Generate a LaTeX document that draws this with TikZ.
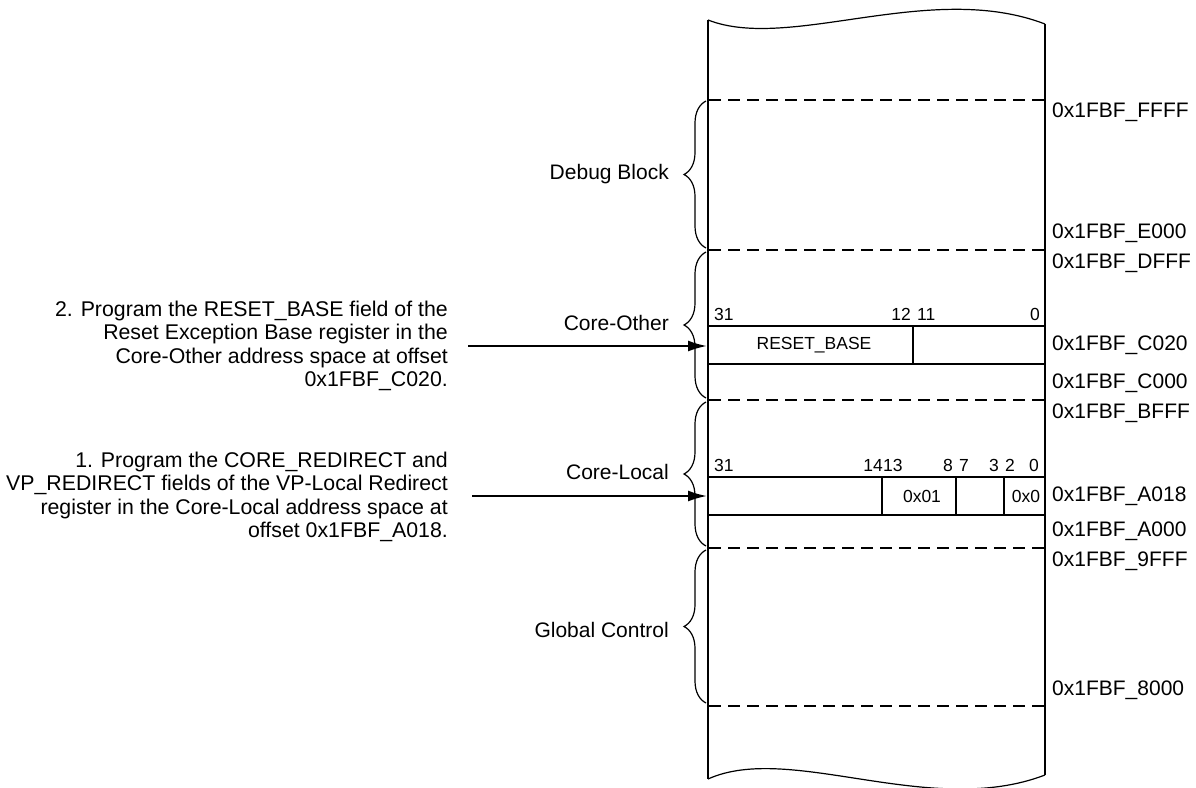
\documentclass[tikz,border=0pt]{standalone}
\usepackage{fontspec}
\setmainfont{Liberation Sans}
\usetikzlibrary{decorations.pathreplacing,arrows.meta}
\begin{document}
\begin{tikzpicture}[x=1pt,y=-1pt,
  colline/.style={line width=2pt},
  sepline/.style={line width=1.8pt, dash pattern=on 12pt off 7pt},
  regline/.style={line width=1.8pt},
  wave/.style={line width=1.2pt},
  blockbrace/.style={decorate, decoration={brace, amplitude=22pt}, line width=1.2pt},
  addr/.style={anchor=west, inner sep=0pt, font=\fontsize{21}{24}\selectfont},
  blocklabel/.style={anchor=east, inner sep=0pt, font=\fontsize{21}{24}\selectfont},
  note/.style={anchor=east, inner sep=0pt, align=right, font=\fontsize{21.3}{23.5}\selectfont},
  bitlbl/.style={inner sep=0pt, font=\fontsize{17.5}{20}\selectfont},
  fieldtxt/.style={inner sep=0pt, font=\fontsize{17.5}{20}\selectfont},
  pointer/.style={line width=2pt, -{Latex[length=19pt,width=11pt]}}
]
\useasboundingbox (0,0) rectangle (1196,787);

% column
\draw[colline] (708,20) -- (708,779);
\draw[colline] (1045,24) -- (1045,775);
\draw[wave] (708,20) .. controls (790,52) and (930,-20) .. (1045,24);
\draw[wave] (708,779) .. controls (790,742) and (930,819) .. (1045,775);

% separators
\foreach \yy in {100,250,400,548,706}
  \draw[sepline] (709,\yy) -- (1045,\yy);

% register Core-Other
\draw[regline] (708,326) -- (1045,326);
\draw[regline] (708,364) -- (1045,364);
\draw[regline] (913,326) -- (913,365);
\node[bitlbl, anchor=west] (b31a) at (714,314) {31};
\node[bitlbl, anchor=east] (b12) at (911,314) {12};
\node[bitlbl, anchor=west] (b11) at (917,314) {11};
\node[bitlbl, anchor=east] (b0a) at (1040,314) {0};
\node[fieldtxt] (rb) at (814,345) {RESET\_BASE};

% register Core-Local
\draw[regline] (708,477) -- (1045,477);
\draw[regline] (708,515) -- (1045,515);
\draw[regline] (882,477) -- (882,516);
\draw[regline] (956,477) -- (956,516);
\draw[regline] (1004,477) -- (1004,516);
\node[bitlbl, anchor=west] (b31b) at (714,465) {31};
\node[bitlbl, anchor=east] (b14) at (883,465) {14};
\node[bitlbl, anchor=west] (b13) at (883,465) {13};
\node[bitlbl, anchor=east] (b8) at (953,465) {8};
\node[bitlbl, anchor=west] (b7) at (959,465) {7};
\node[bitlbl, anchor=east] (b3) at (999,465) {3};
\node[bitlbl, anchor=west] (b2) at (1005,465) {2};
\node[bitlbl, anchor=east] (b0b) at (1039,465) {0};
\node[fieldtxt] (v01) at (922,496) {0x01};
\node[fieldtxt] (v0) at (1026,496) {0x0};

% addresses
\node[addr] (aFFFF) at (1052,112) {0x1FBF\_FFFF};
\node[addr] (aE000) at (1052,233) {0x1FBF\_E000};
\node[addr] (aDFFF) at (1052,263) {0x1FBF\_DFFF};
\node[addr] (aC020) at (1052,345) {0x1FBF\_C020};
\node[addr] (aC000) at (1052,383) {0x1FBF\_C000};
\node[addr] (aBFFF) at (1052,413) {0x1FBF\_BFFF};
\node[addr] (aA018) at (1052,496) {0x1FBF\_A018};
\node[addr] (aA000) at (1052,531) {0x1FBF\_A000};
\node[addr] (a9FFF) at (1052,561) {0x1FBF\_9FFF};
\node[addr] (a8000) at (1052,690) {0x1FBF\_8000};

% braces
\draw[blockbrace] (706,248) -- (706,101);
\draw[blockbrace] (706,398) -- (706,252);
\draw[blockbrace] (706,546) -- (706,402);
\draw[blockbrace] (706,703) -- (706,550);
\node[blocklabel] (lDebug) at (669,174) {Debug Block};
\node[blocklabel] (lOther) at (669,323) {Core-Other};
\node[blocklabel] (lLocal) at (669,472) {Core-Local};
\node[blocklabel] (lGlobal) at (669,630) {Global Control};

% notes and pointers
\node[note] (n2) at (448,346) {2. Program the RESET\_BASE field of the\\Reset Exception Base register in the\\Core-Other address space at offset\\0x1FBF\_C020.};
\node[note] (n1) at (448,497) {1. Program the CORE\_REDIRECT and\\VP\_REDIRECT fields of the VP-Local Redirect\\register in the Core-Local address space at\\offset 0x1FBF\_A018.};
\coordinate (p2s) at (468,346);
\coordinate (p2e) at (707,346);
\coordinate (p1s) at (472,496);
\coordinate (p1e) at (707,496);
\draw[pointer] (p2s) -- (p2e);
\draw[pointer] (p1s) -- (p1e);
\end{tikzpicture}
\end{document}
